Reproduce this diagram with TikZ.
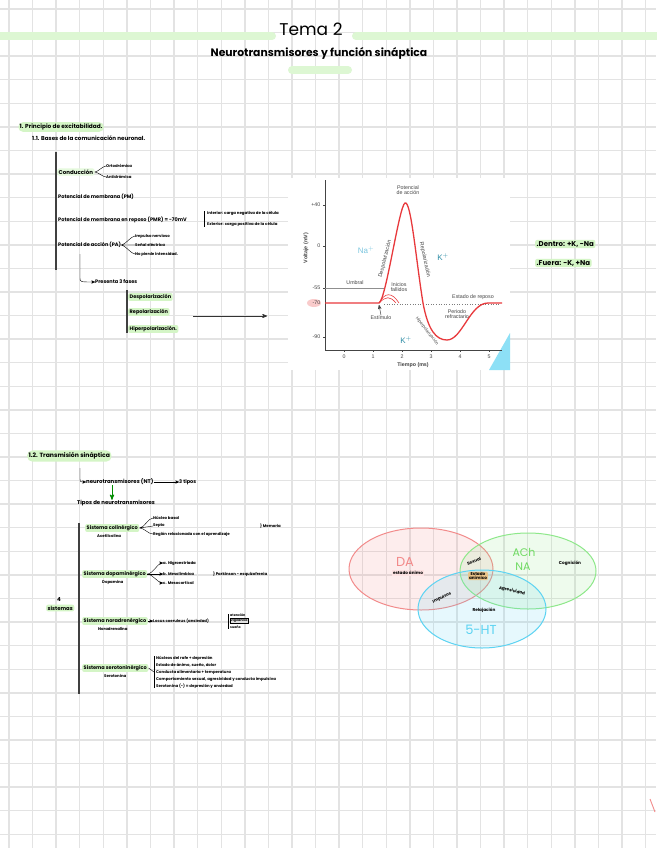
\documentclass[tikz,border=0pt]{standalone}
\usepackage{fontspec}
\newfontfamily\hw{Poppins}
\newfontfamily\gr{Liberation Sans}
\usetikzlibrary{arrows}
\usetikzlibrary{calc}
\usetikzlibrary{positioning}

\definecolor{rejilla}{HTML}{E3E3E3}
\definecolor{verde}{HTML}{D4F5C6}
\definecolor{banda}{HTML}{DDF7D3}
\definecolor{rojo}{HTML}{E8393C}
\definecolor{azulna}{HTML}{7CC6DF}
\definecolor{azulk}{HTML}{2E8DA6}
\definecolor{gris}{HTML}{444444}
\definecolor{vrojo}{HTML}{F28B8B}
\definecolor{vverde}{HTML}{8EE88A}
\definecolor{achverde}{HTML}{6FDB62}
\definecolor{vazul}{HTML}{5CD3F2}
\definecolor{naranja}{HTML}{E9C489}

\tikzset{
  texto/.style={font=\hw\bfseries\fontsize{5}{6}\selectfont, inner sep=0pt, anchor=west},
  peque/.style={font=\hw\bfseries\fontsize{3.9}{5}\selectfont, inner sep=0pt, anchor=west},
  resalte/.style={fill=verde, rounded corners=2pt, inner xsep=1.5pt, inner ysep=1.2pt},
  rama/.style={draw, thin},
  barra/.style={draw=black!75, line width=1.6pt},
  graf/.style={font=\gr\fontsize{5.3}{6.3}\selectfont, text=gris, inner sep=0.5pt},
  curva/.style={draw=rojo, line width=1.3pt},
  venn/.style={font=\hw\bfseries\fontsize{4.2}{5}\selectfont, inner sep=0.8pt},
}

\begin{document}
\begin{tikzpicture}[x=1pt, y=-1pt, >=stealth']
  \useasboundingbox (0,0) rectangle (656,848);
  \fill[white] (0,0) rectangle (656,848);

  % cuadricula
  \foreach \i in {0,...,27}
    \draw[rejilla, line width=1.4pt] (9+23.58*\i,0) -- (9+23.58*\i,848);
  \foreach \j in {0,...,35}
    \draw[rejilla, line width=1.4pt] (0,9+23.58*\j) -- (656,9+23.58*\j);

  % cabecera
  \draw[banda, line width=8pt, line cap=round] (0,36) -- (272,36);
  \draw[banda, line width=8pt, line cap=round] (356,36) -- (660,36);
  \draw[banda, line width=8pt, line cap=round] (292,70) -- (348,70);
  \node[font=\hw\fontsize{17}{18}\selectfont, inner sep=0pt] (tema) at (311,29) {Tema 2};
  \node[font=\hw\bfseries\fontsize{10.8}{11}\selectfont, inner sep=0pt] (titulo) at (319,53)
    {Neurotransmisores y función sináptica};

  % 1. excitabilidad
  \node[texto, resalte, rounded corners=5pt, inner ysep=1.8pt, font=\hw\bfseries\fontsize{5.8}{6.5}\selectfont] (sec_1) at (18,127)
    {1. Principio de excitabilidad.};
  \node[texto, font=\hw\bfseries\fontsize{5.6}{6.5}\selectfont] (sub_11) at (32,138)
    {1.1. Bases de la comunicación neuronal.};

  \coordinate (bar1_ini) at (56,152);
  \coordinate (bar1_fin) at (56,270);
  \path[barra] (bar1_ini) -- (bar1_fin);

  \node[texto, resalte, fill=verde!60, font=\hw\bfseries\fontsize{5.5}{6}\selectfont] (cond) at (57,172) {Conducción};
  \node[peque] (cond_1) at (106,166) {Ortodrómica};
  \node[peque] (cond_2) at (106,177) {Antidrómica};
  \path[rama] (cond.east) .. controls +(3,0) and +(-3,0) .. (cond_1.west)
              (cond.east) .. controls +(3,0) and +(-3,0) .. (cond_2.west);

  \node[texto] (pm) at (58,197) {Potencial de membrana (PM)};
  \node[texto] (pmr) at (58,220) {Potencial de membrana en reposo (PMR) = -70mV};
  \node[peque] (pmr_1) at (207,213) {Interior: carga negativa de la célula};
  \node[peque] (pmr_2) at (207,224) {Exterior: carga positiva de la célula};
  \draw[line width=0.7pt] ($(pmr_1.west)+(-3,-2)$) -- ($(pmr_2.west)+(-3,3)$);

  \node[texto] (pa) at (58,245) {Potencial de acción (PA)};
  \node[peque] (pa_1) at (135,236) {Impulso nervioso};
  \node[peque] (pa_2) at (135,245) {Señal eléctrica};
  \node[peque] (pa_3) at (135,254) {No pierde intensidad.};
  \path[rama] (pa.east) .. controls +(4,0) and +(-4,0) .. (pa_1.west)
              (pa.east) -- (pa_2.west)
              (pa.east) .. controls +(4,0) and +(-4,0) .. (pa_3.west);

  \node[texto] (fases) at (95,282) {Presenta 3 fases};
  \coordinate (pa_baja) at (80,254);
  \draw[->, thin] (pa_baja) -- (80,278) .. controls (80,282) .. (fases.west);

  \coordinate (bar2_ini) at (127,290);
  \coordinate (bar2_fin) at (127,333);
  \path[barra, line width=1.1pt] (bar2_ini) -- (bar2_fin);
  \node[texto, resalte] (fase_1) at (128,297) {Despolarización};
  \node[texto, resalte] (fase_2) at (128,312) {Repolarización};
  \node[texto, resalte] (fase_3) at (128,329) {Hiperpolarización.};

  \coordinate (flecha_ini) at (193,316);
  \coordinate (flecha_fin) at (267,316);
  \draw[->, line width=0.7pt, black!80] (flecha_ini) -- (flecha_fin);

  % grafica del potencial de accion
  \fill[white] (288,178) rectangle (510,370);
  \fill[vazul!70] (510,333) -- (510,370) -- (489,370) -- cycle;
  \draw[gris, line width=0.6pt] (325,180) -- (325,350) -- (502,350);
  \foreach \v/\y in {+40/205, 0/246, -55/288, -90/337} {
    \draw[gris, line width=0.4pt] (323,\y) -- (325,\y);
    \node[graf, anchor=east] at (321,\y) {\v};
  }
  \fill[vrojo!45] (314,303) ellipse [x radius=7, y radius=4];
  \node[graf, anchor=east] at (321,303) {-70};
  \foreach \t in {0,...,5} {
    \draw[gris, line width=0.4pt] (344+29*\t,350) -- (344+29*\t,352);
    \node[graf] at (344+29*\t,357) {\t};
  }
  \node[graf, font=\gr\bfseries\fontsize{5.3}{6.3}\selectfont, rotate=90] at (306,248) {Voltaje (mV)};
  \node[graf, font=\gr\bfseries\fontsize{5.3}{6.3}\selectfont] at (413,365) {Tiempo (ms)};
  \draw[gris!60, line width=0.5pt] (325,288) -- (384,288);
  \draw[gris!70, line width=0.6pt, dotted] (384,304) -- (500,304);
  \path[curva] (325,303) -- (379,303)
    .. controls (386,300) and (399,206) .. (405,203)
    .. controls (411,200) and (416,260) .. (423,303)
    .. controls (428,330) and (436,340) .. (447,340)
    .. controls (462,340) and (470,303) .. (488,303) -- (502,303);
  \draw[rojo, line width=0.6pt] (379,303) .. controls (385,292) and (392,292) .. (399,303);
  \draw[rojo, line width=0.6pt] (379,303) .. controls (386,296) and (390,296) .. (396,303);
  \node[graf, align=center] (pico) at (408,190) {Potencial\\[-1pt]de acción};
  \node[graf] (umbral) at (355,283) {Umbral};
  \node[graf, align=center] (fallidos) at (399,287) {Inicios\\[-1pt]fallidos};
  \node[graf] (reposo) at (473,297) {Estado de reposo};
  \node[graf, align=center] (refractario) at (457,314) {Periodo\\[-1pt]refractario};
  \node[graf] (estimulo) at (381,318) {Estímulo};
  \draw[->, gris, line width=0.5pt] (estimulo.north) -- (379,305);
  \node[graf, rotate=76, font=\gr\fontsize{5.4}{6}\selectfont] (despol) at (385,259) {Despolarización};
  \node[graf, rotate=-78, font=\gr\fontsize{5.4}{6}\selectfont] (repol) at (425,260) {Repolarización};
  \node[graf, rotate=-52, font=\gr\fontsize{4.4}{5.5}\selectfont, inner sep=0pt] (hiperpol) at (427,331) {Hiperpolarización};
  \node[font=\gr\fontsize{8}{9}\selectfont, text=azulna] (na) at (366,250) {Na$^+$};
  \node[font=\gr\fontsize{8}{9}\selectfont, text=azulk] (k_1) at (443,257) {K$^+$};
  \node[font=\gr\fontsize{8}{9}\selectfont, text=azulk, inner sep=0pt] (k_2) at (406,340) {K$^+$};

  % iones
  \node[texto, resalte, font=\hw\bfseries\fontsize{7}{8}\selectfont] (dentro) at (535,244) {.Dentro: +K, -Na};
  \node[texto, resalte, font=\hw\bfseries\fontsize{7}{8}\selectfont] (fuera) at (535,263) {.Fuera: -K, +Na};

  % 1.2 transmision sinaptica
  \node[texto, resalte, rounded corners=5pt, inner ysep=2.2pt, font=\hw\bfseries\fontsize{6.1}{7}\selectfont] (sec_12) at (27,456)
    {1.2. Transmisión sináptica};
  \node[texto, font=\hw\bfseries\fontsize{5.4}{6}\selectfont] (nt) at (86,482) {neurotransmisores (NT)};
  \node[texto] (tipos3) at (179,482) {3 tipos};
  \coordinate (sec_12_baja) at (80,468);
  \draw[->, thin] (sec_12_baja) -- (80,478) .. controls (80,482) .. (nt.west);
  \draw[->, thin] (nt.east) -- (tipos3.west);
  \node[texto, font=\hw\bfseries\fontsize{5.4}{6}\selectfont] (tiposnt) at (77,503) {Tipos de neurotransmisores};
  \draw[->, draw=green!55!black, line width=0.9pt] (nt.south -| 112,0) -- (tiposnt.north -| 112,0);

  \coordinate (bar3_ini) at (79,523);
  \coordinate (bar3_fin) at (79,694);
  \path[barra, line width=1.8pt] (bar3_ini) -- (bar3_fin);

  \node[texto, font=\hw\bfseries\fontsize{5.5}{6}\selectfont] (sist_n) at (57,600) {4};
  \node[texto, resalte, font=\hw\bfseries\fontsize{5.3}{6}\selectfont] (sist) at (46,608) {sistemas};

  % colinergico
  \node[texto, resalte] (col) at (85,528) {Sistema colinérgico};
  \node[peque] (col_sub) at (97,536) {Acetilcolina};
  \node[peque] (col_1) at (153,518) {Núcleo basal};
  \node[peque] (col_2) at (153,526) {Septo};
  \node[peque] (col_3) at (153,534) {Región relacionada con el aprendizaje};
  \path[rama] (col.east) .. controls +(5,0) and +(-5,0) .. (col_1.west)
              (col.east) -- (col_2.west)
              (col.east) .. controls +(5,0) and +(-5,0) .. (col_3.west);
  \node[peque] (col_m) at (260,526) {\}\,Memoria};

  % dopaminergico
  \node[texto, resalte] (dop) at (82,574) {Sistema dopaminérgico};
  \node[peque] (dop_sub) at (102,582) {Dopamina};
  \node[peque] (dop_1) at (163,563) {a. Nigroestriada};
  \node[peque] (dop_2) at (163,574) {b. Mesolímbica};
  \node[peque] (dop_3) at (163,583) {c. Mesocortical};
  \path[rama,->] (dop.east) .. controls +(5,0) and +(-5,0) .. (dop_1.west);
  \path[rama,->] (dop.east) -- (dop_2.west);
  \path[rama,->] (dop.east) .. controls +(5,0) and +(-5,0) .. (dop_3.west);
  \node[peque] (dop_b) at (213,574) {\}\,Parkinson - esquizofrenia};

  % noradrenergico
  \node[texto, resalte] (nor) at (82,621) {Sistema noradrenérgico};
  \node[peque] (nor_sub) at (98,629) {Noradrenalina};
  \node[peque] (nor_1) at (153,621) {Locus coeruleus (ansiedad)};
  \draw[->, thin] (nor.east) -- (nor_1.west);
  \node[peque, font=\hw\bfseries\fontsize{3.3}{4}\selectfont] (nor_2) at (230,615) {atención};
  \node[peque, font=\hw\bfseries\fontsize{3.3}{4}\selectfont, draw, inner sep=0.6pt] (nor_3) at (230,621) {vigilancia};
  \node[peque, font=\hw\bfseries\fontsize{3.3}{4}\selectfont] (nor_4) at (230,627) {sueño};
  \draw[thin] ($(nor_2.west)+(-2,-1)$) -- ($(nor_4.west)+(-2,2)$);

  % serotoninergico
  \node[texto, resalte] (ser) at (82,668) {Sistema serotoninérgico};
  \node[peque] (ser_sub) at (104,676) {Serotonina};
  \node[peque] (ser_1) at (156,658) {Núcleos del rafe + depresión};
  \node[peque] (ser_2) at (156,665) {Estado de ánimo, sueño, dolor};
  \node[peque] (ser_3) at (156,672) {Conducta alimentaria + temperatura};
  \node[peque] (ser_4) at (156,679) {Comportamiento sexual, agresividad y conducta impulsiva};
  \node[peque] (ser_5) at (156,686) {Serotonina (-) = depresión y ansiedad};
  \draw[thin] ($(ser_1.west)+(-2,-2)$) -- ($(ser_5.west)+(-2,2)$);
  \draw[thin] (ser.east) -- ($(ser_3.west)+(-2,0)$);

  % diagrama de Venn
  \path[draw=vrojo, line width=1pt, fill=vrojo, fill opacity=0.15, draw opacity=1]
    (421,569) ellipse [x radius=72, y radius=41];
  \path[draw=vverde, line width=1pt, fill=vverde, fill opacity=0.15, draw opacity=1]
    (528,571) ellipse [x radius=68, y radius=38];
  \path[draw=vazul, line width=1pt, fill=vazul, fill opacity=0.15, draw opacity=1]
    (482,609) ellipse [x radius=64, y radius=39];
  \node[font=\hw\fontsize{13}{14}\selectfont, text=vrojo] (da) at (405,562) {DA};
  \node[venn, fill=vrojo!25] (da_t) at (408,573) {estado ánimo};
  \node[font=\hw\fontsize{11}{11}\selectfont, text=achverde, inner sep=0pt] (ach) at (524,552) {ACh};
  \node[font=\hw\fontsize{11}{11}\selectfont, text=achverde, inner sep=0pt] (na_v) at (523,567) {NA};
  \node[venn] (ach_t) at (570,563) {Cognición};
  \node[font=\hw\fontsize{13}{14}\selectfont, text=vazul] (ht) at (481,630) {5-HT};
  \node[venn] (ht_t) at (484,610) {Relajación};
  \node[venn, rotate=22] (inter_1) at (474,561) {Sexual};
  \node[venn, rotate=25] (inter_2) at (442,598) {Impulsos};
  \node[venn, rotate=-12] (inter_3) at (512,591) {Agresividad};
  \node[venn, fill=naranja, align=center, rounded corners=1pt] (centro) at (478,576) {Estado\\[-1.5pt]anímico};

  % marca
  \draw[vrojo, line width=0.9pt] (650,799) -- (655,812);
\end{tikzpicture}
\end{document}
